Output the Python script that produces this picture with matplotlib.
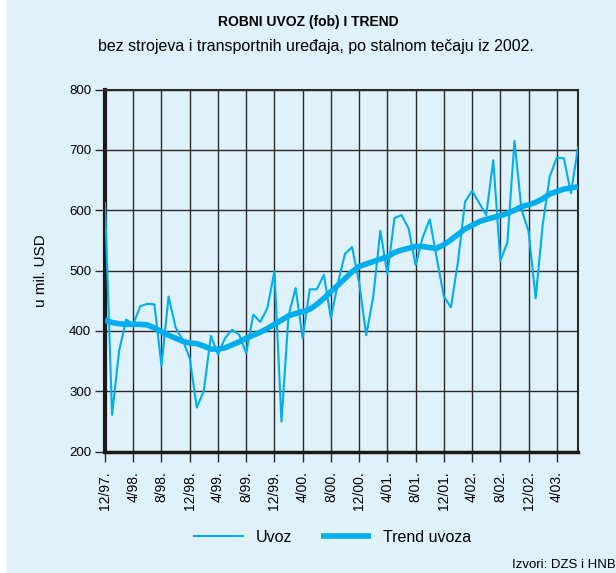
import matplotlib
import matplotlib.pyplot as plt
import numpy as np
from matplotlib.patches import Rectangle

plt.rcParams['font.family'] = ['Liberation Sans', 'DejaVu Sans']

# monthly imports, 12/97 .. 7/03 (mil. USD)
uvoz = [612, 261, 367, 419, 411, 441, 445, 444, 342, 457, 406, 385,
        355, 273, 301, 392, 361, 388, 402, 394, 363, 427, 415, 438,
        499, 250, 426, 471, 388, 469, 469, 493, 421, 480, 528, 539,
        480, 393, 457, 566, 494, 587, 592, 570, 509, 555, 585, 520,
        457, 439, 515, 614, 632, 612, 592, 683, 516, 547, 715, 601,
        565, 454, 576, 656, 687, 686, 628, 704]
trend = [418, 414, 412, 411, 411, 411, 410, 405, 399, 393, 388, 383,
         380, 379, 375, 370, 370, 372, 377, 382, 388, 393, 398, 404,
         411, 418, 425, 429, 432, 436, 444, 454, 465, 476, 487, 498,
         507, 511, 515, 519, 523, 530, 534, 537, 540, 540, 538, 537,
         543, 551, 560, 569, 575, 581, 585, 588, 591, 595, 600, 606,
         609, 613, 619, 627, 631, 635, 637, 639]
tick_labels = ['12/97.', '4/98.', '8/98.', '12/98.', '4/99.', '8/99.',
               '12/99.', '4/00.', '8/00.', '12/00.', '4/01.', '8/01.',
               '12/01.', '4/02.', '8/02.', '12/02.', '4/03.']

bg = '#dff1fb'
line_col = '#00aeef'
grid_col = '#2a2a2a'

fig = plt.figure(figsize=(6.16, 5.73), dpi=100, facecolor='white')
fig.patches.append(Rectangle((7 / 616, 0), 1, 1, transform=fig.transFigure,
                             facecolor=bg, edgecolor='none', zorder=-10))

ax = fig.add_axes([105 / 616, 121.3 / 573, 473 / 616, 362.2 / 573])
ax.set_facecolor(bg)

x = np.arange(len(uvoz))
ax.plot(x, uvoz, color=line_col, lw=1.5, label='Uvoz', zorder=3)
ax.plot(x, trend, color=line_col, lw=4, label='Trend uvoza', zorder=4,
        solid_capstyle='butt')

ax.set_xlim(0, len(uvoz) - 1)
ax.set_ylim(200, 800)
ax.set_yticks(range(200, 801, 100))
ax.set_xticks(np.arange(0, len(tick_labels) * 4, 4))
ax.set_xticklabels(tick_labels, rotation=90, fontsize=10)
ax.tick_params(axis='y', labelsize=9.5, length=7, width=1, color=grid_col, pad=3)
ax.tick_params(axis='x', length=7, width=1, color=grid_col, pad=7)

ax.grid(True, color=grid_col, lw=1)
ax.set_axisbelow(True)
for side in ['top', 'right']:
    ax.spines[side].set_linewidth(1.5)
    ax.spines[side].set_color(grid_col)
ax.spines['left'].set_linewidth(3)
ax.spines['bottom'].set_linewidth(2.5)
ax.spines['left'].set_color('#1a1a1a')
ax.spines['bottom'].set_color('#1a1a1a')

ax.set_ylabel('u mil. USD', fontsize=11, labelpad=15)

fig.text(0.5, 1 - 22 / 573, 'ROBNI UVOZ (fob) I TREND', ha='center', va='center',
         fontsize=10, fontweight='bold')
fig.text(0.513, 1 - 47 / 573,
         'bez strojeva i transportnih uređaja, po stalnom tečaju iz 2002.',
         ha='center', va='center', fontsize=11.5)
fig.text(1.0, 1 - 565 / 573, 'Izvori: DZS i HNB', ha='right', va='center', fontsize=9.5)

fig.legend(loc='center', bbox_to_anchor=(0.54, 1 - 537 / 573), ncol=2,
           frameon=False, fontsize=11.5, handlelength=3.1, columnspacing=1.8,
           handletextpad=0.8)

fig.savefig('out.png', dpi=100, facecolor=fig.get_facecolor())
